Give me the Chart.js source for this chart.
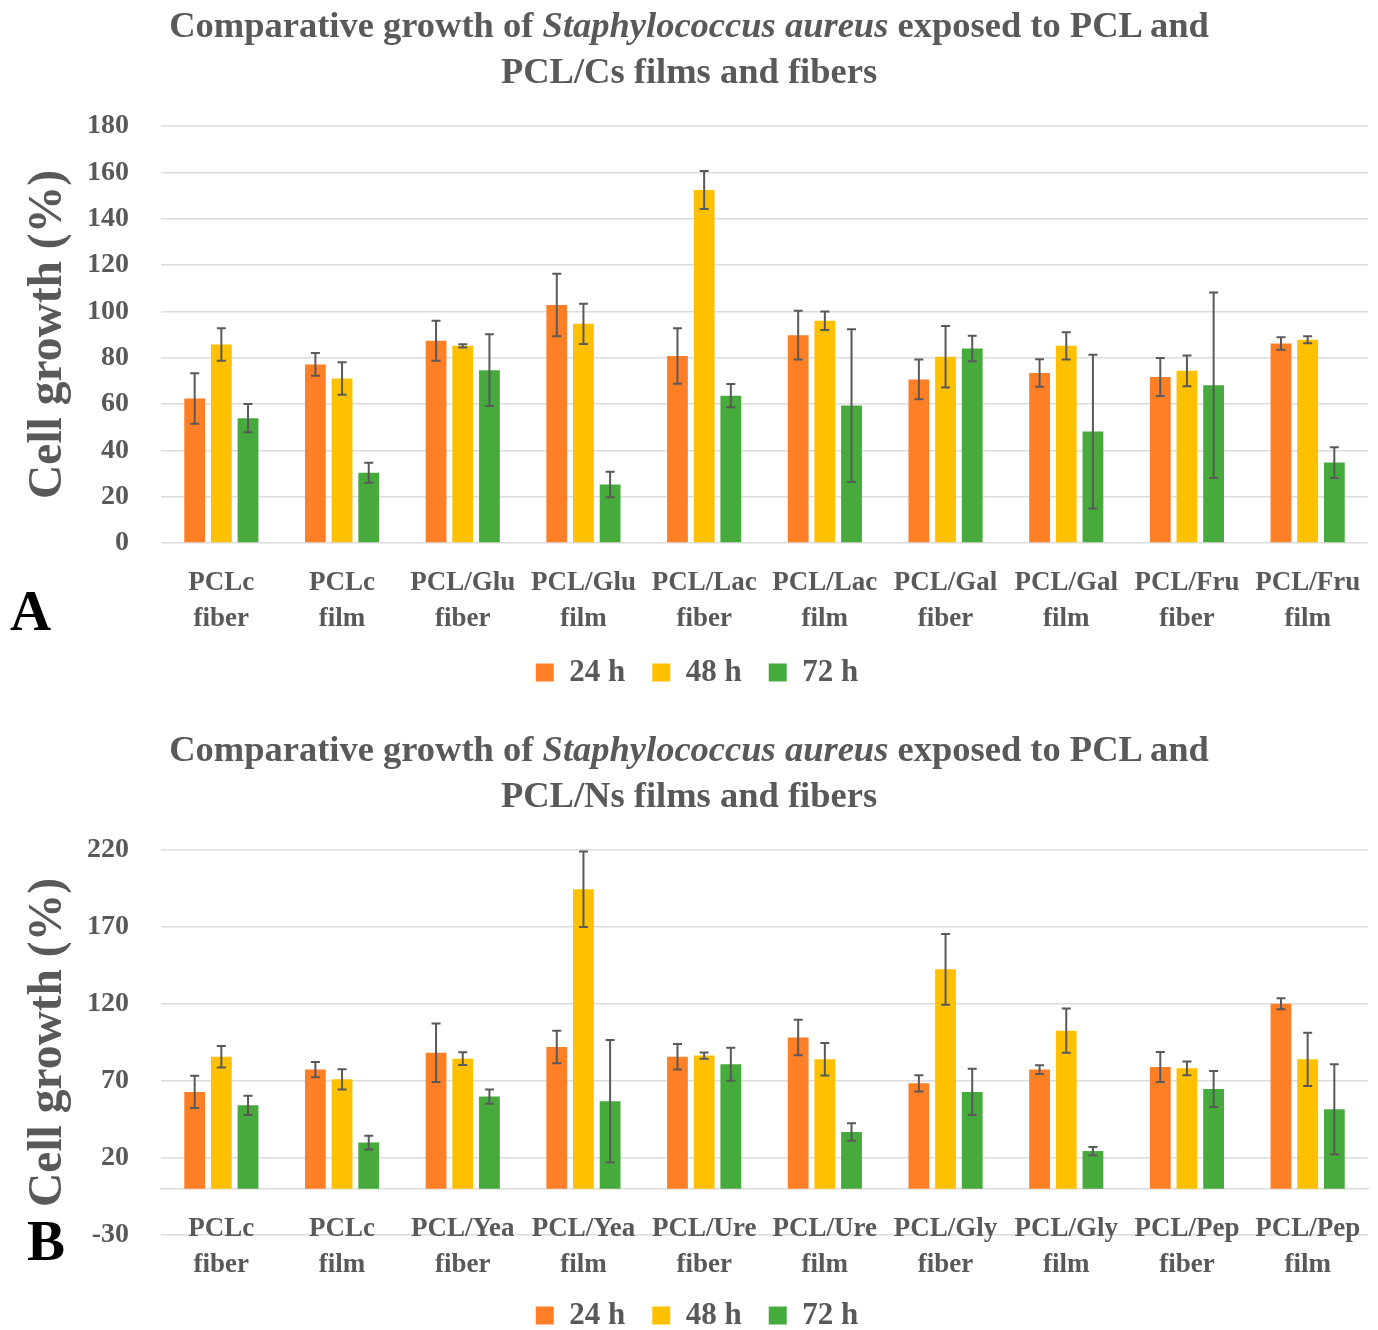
<!DOCTYPE html>
<html><head><meta charset="utf-8">
<script src="https://cdn.jsdelivr.net/npm/chart.js@4.4.1/dist/chart.umd.min.js"></script>
<style>
html,body{margin:0;padding:0;background:#fff;}
body{width:1378px;height:1330px;position:relative;overflow:hidden;font-family:"Liberation Serif",serif;}
.box{position:absolute;left:0;width:1378px;}
.title{position:absolute;left:0;width:1378px;text-align:center;color:#595959;font-weight:bold;font-size:36.5px;line-height:46px;z-index:2;}
.panel{position:absolute;color:#000;font-weight:bold;font-size:57px;line-height:1;z-index:2;}
</style></head>
<body>
<div class="box" style="top:0;height:700px"><canvas id="cA"></canvas></div>
<div class="box" style="top:700px;height:645px"><canvas id="cB"></canvas></div>
<div class="title" style="top:2px">Comparative growth of <i>Staphylococcus aureus</i> exposed to PCL and<br>PCL/Cs films and fibers</div>
<div class="title" style="top:726px">Comparative growth of <i>Staphylococcus aureus</i> exposed to PCL and<br>PCL/Ns films and fibers</div>
<div class="panel" style="left:10px;top:582px">A</div>
<div class="panel" style="left:27px;top:1212px">B</div>
<script>
const seriesLabels = ['24 h', '48 h', '72 h'];
const seriesColors = ['#FF7F27', '#FFC000', '#46AB3C'];

const categoriesA = [['PCLc','fiber'],['PCLc','film'],['PCL/Glu','fiber'],['PCL/Glu','film'],['PCL/Lac','fiber'],['PCL/Lac','film'],['PCL/Gal','fiber'],['PCL/Gal','film'],['PCL/Fru','fiber'],['PCL/Fru','film']];
const a24 = [62.4, 77.1, 87.3, 102.7, 80.7, 89.7, 70.6, 73.4, 71.7, 86.1];
const a24err = [10.9, 4.9, 8.6, 13.5, 12.0, 10.5, 8.6, 5.9, 8.2, 2.7];
const a48 = [85.7, 71.0, 85.1, 94.6, 152.4, 95.9, 80.4, 85.1, 74.3, 87.7];
const a48err = [7.0, 7.0, 0.7, 8.7, 8.2, 4.0, 13.3, 5.9, 6.6, 1.5];
const a72 = [53.9, 30.3, 74.6, 25.3, 63.6, 59.3, 84.0, 48.1, 68.1, 34.7];
const a72err = [6.1, 4.3, 15.5, 5.5, 5.0, 33.0, 5.5, 33.2, 40.0, 6.6];
const yTicksA = {min: 0, max: 180, step: 20};

const categoriesB = [['PCLc','fiber'],['PCLc','film'],['PCL/Yea','fiber'],['PCL/Yea','film'],['PCL/Ure','fiber'],['PCL/Ure','film'],['PCL/Gly','fiber'],['PCL/Gly','film'],['PCL/Pep','fiber'],['PCL/Pep','film']];
const b24 = [62.9, 77.4, 88.4, 92.1, 85.8, 98.2, 68.5, 77.4, 79.1, 120.2];
const b24err = [10.5, 5.0, 19.0, 10.6, 8.3, 11.5, 5.3, 2.8, 9.7, 3.6];
const b48 = [85.8, 71.1, 84.5, 194.5, 86.5, 84.1, 142.5, 102.7, 78.2, 84.1];
const b48err = [7.0, 6.6, 4.1, 24.5, 2.0, 10.5, 23.0, 14.3, 4.4, 17.3];
const b72 = [54.2, 30.0, 59.9, 56.8, 80.9, 36.9, 62.9, 24.5, 64.8, 51.6];
const b72err = [6.2, 4.4, 4.6, 39.8, 10.7, 5.7, 15.0, 2.7, 11.7, 29.2];
const yTicksB = {min: -30, max: 220, step: 50};

Chart.defaults.font.family = '"Liberation Serif", serif';
Chart.defaults.font.weight = 'bold';
Chart.defaults.color = '#595959';

const errorBars = {
  id: 'errorBars',
  afterDatasetsDraw(chart) {
    const ctx = chart.ctx;
    const ys = chart.scales.y;
    ctx.save();
    ctx.strokeStyle = '#595959';
    ctx.lineWidth = 2;
    chart.data.datasets.forEach((ds, i) => {
      const meta = chart.getDatasetMeta(i);
      meta.data.forEach((bar, j) => {
        const v = ds.data[j], e = ds.errors[j];
        const yt = ys.getPixelForValue(v + e), yb = ys.getPixelForValue(v - e);
        const x = bar.x, c = 4.5;
        ctx.beginPath();
        ctx.moveTo(x, yt); ctx.lineTo(x, yb);
        ctx.moveTo(x - c, yt); ctx.lineTo(x + c, yt);
        ctx.moveTo(x - c, yb); ctx.lineTo(x + c, yb);
        ctx.stroke();
      });
    });
    ctx.restore();
  }
};

function makeChart(id, cats, vals, errs, yt, opts) {
  const scales = {
    x: {
      position: opts.xAtZero ? {y: 0} : 'bottom',
      grid: {display: false, drawTicks: false},
      border: {display: !!opts.xAtZero, color: '#DCDCDC', width: 1.5},
      ticks: {font: {size: 27, weight: 'bold', lineHeight: 1.333}, color: '#595959',
              padding: 22, autoSkip: false, maxRotation: 0, minRotation: 0},
      afterFit: s => {
        if (!opts.xAtZero) s.height = opts.xH;
        s.paddingLeft = 0; s.paddingRight = 0;
      }
    },
    y: {
      min: yt.min, max: yt.max,
      grid: {color: '#DCDCDC', lineWidth: 1.5, drawTicks: false},
      border: {display: false},
      ticks: {stepSize: yt.step, font: {size: 28, weight: 'bold'}, color: '#595959', padding: 32},
      title: {display: true, text: 'Cell growth (%)', color: '#595959',
              font: {size: 47.5, weight: 'bold'}, padding: {top: -6, bottom: 0}},
      afterFit: s => { s.width = 135; }
    }
  };
  if (opts.xAtZero) {
    scales.xSpace = {
      type: 'category', labels: [''], position: 'bottom',
      grid: {display: false, drawTicks: false}, border: {display: false},
      ticks: {display: false},
      afterFit: s => { s.height = opts.xH; s.paddingLeft = 0; s.paddingRight = 0; }
    };
  }
  return new Chart(document.getElementById(id), {
    type: 'bar',
    data: {
      labels: cats,
      datasets: vals.map((v, i) => ({
        label: seriesLabels[i], data: v, errors: errs[i],
        backgroundColor: seriesColors[i], borderWidth: 0,
        categoryPercentage: 0.663, barPercentage: 0.78
      }))
    },
    options: {
      responsive: true, maintainAspectRatio: false, animation: false,
      layout: {padding: {top: opts.padTop, right: 10, left: 26, bottom: opts.padBottom}},
      plugins: {
        legend: {
          position: 'bottom',
          labels: {boxWidth: 18, boxHeight: 18, padding: 27, color: '#595959',
                   font: {size: 31, weight: 'bold'}}
        },
        tooltip: {enabled: false}
      },
      scales: scales
    },
    plugins: [errorBars]
  });
}

makeChart('cA', categoriesA, [a24, a48, a72], [a24err, a48err, a72err], yTicksA,
  {padTop: 126, padBottom: 2, xH: 87, xAtZero: false});
makeChart('cB', categoriesB, [b24, b48, b72], [b24err, b48err, b72err], yTicksB,
  {padTop: 150, padBottom: 4, xH: 38, xAtZero: true});
</script>
</body></html>
